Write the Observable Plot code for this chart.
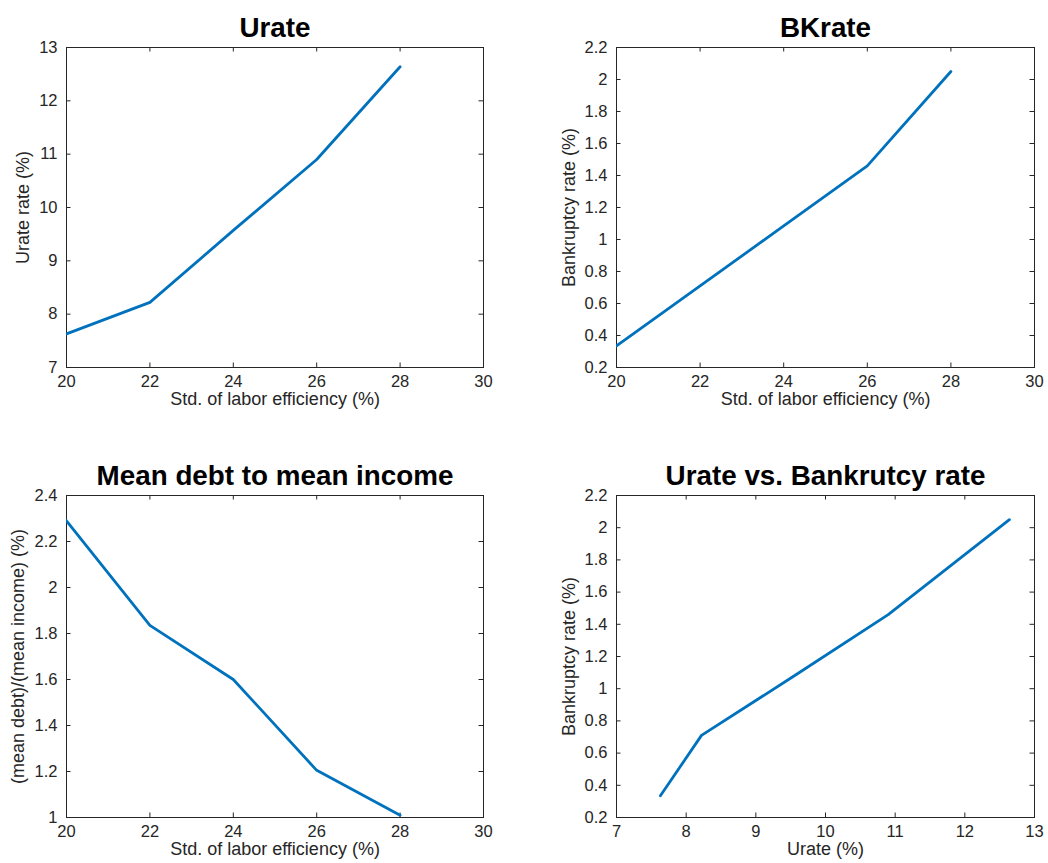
<!DOCTYPE html>
<html>
<head>
<meta charset="utf-8">
<script src="https://cdn.jsdelivr.net/npm/d3@7"></script>
<script src="https://cdn.jsdelivr.net/npm/@observablehq/plot@0.6"></script>
<style>
  html, body { margin: 0; padding: 0; background: #fff; }
  #page { position: relative; width: 1048px; height: 863px; overflow: hidden; background: #fff; }
  .cell { position: absolute; }
</style>
</head>
<body>
<div id="page"></div>
<script>
// Std. of labor efficiency (%) — the experiment grid
const laborStd = [20, 22, 24, 26, 28];
// Unemployment rate (%) at each std level
const urate = [7.63, 8.22, 9.57, 10.90, 12.64];
// Bankruptcy rate (%) at each std level
const bkrate = [0.335, 0.71, 1.085, 1.46, 2.05];
// Mean debt over mean income at each std level
const debtToIncome = [2.29, 1.835, 1.60, 1.205, 1.01];

// Tick values
const stdTicks = [20, 22, 24, 26, 28, 30];
const urateTicks = [7, 8, 9, 10, 11, 12, 13];
const bkTicks = [0.2, 0.4, 0.6, 0.8, 1, 1.2, 1.4, 1.6, 1.8, 2, 2.2];
const debtTicks = [1, 1.2, 1.4, 1.6, 1.8, 2, 2.2, 2.4];

const FONT = "'Liberation Sans', Arial, Helvetica, sans-serif";
const INK = "#262626";
const LINE = "#0072BD";
const TICK_LEN = 4.5;

function panel({left, top, width, height, margin, xDomain, yDomain, xTicks, yTicks,
                xs, ys, title, xLabel, yLabel, yLabelOffset}) {
  const frameW = width - margin.left - margin.right;
  const frameH = height - margin.top - margin.bottom;
  const rows = xs.map((x, i) => ({x, y: ys[i]}));
  const fmt = d => String(d);
  const chart = Plot.plot({
    width, height,
    marginLeft: margin.left, marginRight: margin.right,
    marginTop: margin.top, marginBottom: margin.bottom,
    style: {fontFamily: FONT, background: "transparent", overflow: "visible"},
    x: {domain: xDomain},
    y: {domain: yDomain},
    marks: [
      Plot.frame({stroke: INK, strokeWidth: 1}),
      // inward ticks on all four sides
      Plot.tickX(xTicks, {x: d => d, insetTop: frameH - TICK_LEN, stroke: INK, strokeWidth: 1}),
      Plot.tickX(xTicks, {x: d => d, insetBottom: frameH - TICK_LEN, stroke: INK, strokeWidth: 1}),
      Plot.tickY(yTicks, {y: d => d, insetRight: frameW - TICK_LEN, stroke: INK, strokeWidth: 1}),
      Plot.tickY(yTicks, {y: d => d, insetLeft: frameW - TICK_LEN, stroke: INK, strokeWidth: 1}),
      Plot.axisX({ticks: xTicks, tickFormat: fmt, tickSize: 0, tickPadding: 7.5,
                  fontSize: 16.5, fill: INK, label: null}),
      Plot.axisY({ticks: yTicks, tickFormat: fmt, tickSize: 0, tickPadding: 9,
                  fontSize: 16.5, fill: INK, label: null}),
      Plot.line(rows, {x: "x", y: "y", stroke: LINE, strokeWidth: 2.8, clip: true}),
      Plot.text([title], {text: d => d, frameAnchor: "top", dy: -11, lineAnchor: "bottom",
                          fontSize: 27.8, fontWeight: "bold", fill: "#000"}),
      Plot.text([xLabel], {text: d => d, frameAnchor: "bottom", dy: 37.5, lineAnchor: "bottom",
                           fontSize: 18, fill: INK}),
      Plot.text([yLabel], {text: d => d, frameAnchor: "left", rotate: -90, dx: yLabelOffset,
                           lineAnchor: "bottom", textAnchor: "middle", fontSize: 18, fill: INK})
    ]
  });
  const cell = document.createElement("div");
  cell.className = "cell";
  cell.style.left = left + "px";
  cell.style.top = top + "px";
  cell.appendChild(chart);
  document.getElementById("page").appendChild(cell);
}

const topMargin = {left: 66, right: 41, top: 47, bottom: 63};
const topMarginR = {left: 92, right: 14, top: 47, bottom: 63};
const botMargin = {left: 66, right: 41, top: 65, bottom: 46};
const botMarginR = {left: 92, right: 14, top: 65, bottom: 46};

panel({left: 0, top: 0, width: 524, height: 430, margin: topMargin,
       xDomain: [20, 30], yDomain: [7, 13], xTicks: stdTicks, yTicks: urateTicks,
       xs: laborStd, ys: urate, title: "Urate",
       xLabel: "Std. of labor efficiency (%)", yLabel: "Urate rate (%)", yLabelOffset: -37.5});

panel({left: 524, top: 0, width: 524, height: 430, margin: topMarginR,
       xDomain: [20, 30], yDomain: [0.2, 2.2], xTicks: stdTicks, yTicks: bkTicks,
       xs: laborStd, ys: bkrate, title: "BKrate",
       xLabel: "Std. of labor efficiency (%)", yLabel: "Bankruptcy rate (%)", yLabelOffset: -42});

panel({left: 0, top: 430, width: 524, height: 433, margin: botMargin,
       xDomain: [20, 30], yDomain: [1, 2.4], xTicks: stdTicks, yTicks: debtTicks,
       xs: laborStd, ys: debtToIncome, title: "Mean debt to mean income",
       xLabel: "Std. of labor efficiency (%)", yLabel: "(mean debt)/(mean income) (%)", yLabelOffset: -43});

panel({left: 524, top: 430, width: 524, height: 433, margin: botMarginR,
       xDomain: [7, 13], yDomain: [0.2, 2.2], xTicks: urateTicks, yTicks: bkTicks,
       xs: urate, ys: bkrate, title: "Urate vs. Bankrutcy rate",
       xLabel: "Urate (%)", yLabel: "Bankruptcy rate (%)", yLabelOffset: -42});
</script>
</body>
</html>
